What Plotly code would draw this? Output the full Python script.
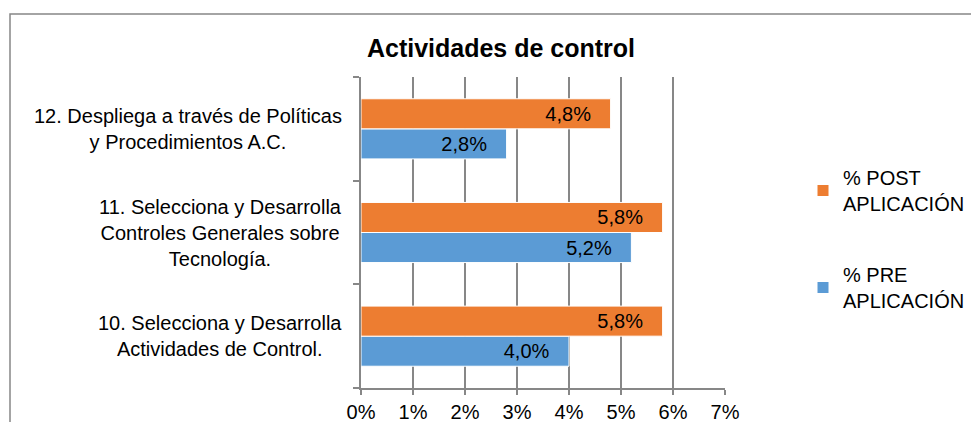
import plotly.graph_objects as go

# Datos
categorias = [
    "10. Selecciona y Desarrolla<br>Actividades de Control.",
    "11. Selecciona y Desarrolla<br>Controles Generales sobre<br>Tecnología.",
    "12. Despliega a través de Políticas<br>y Procedimientos A.C.",
]
pre_aplicacion = [4.0, 5.2, 2.8]
post_aplicacion = [5.8, 5.8, 4.8]
ticks_x = [0, 1, 2, 3, 4, 5, 6, 7]

AZUL = "#5B9BD5"
NARANJA = "#ED7D31"
GRIS = "#878787"
FUENTE = "Liberation Sans, Arial, sans-serif"
TAM = 20

# la página deja 8 px de margen en el body
OFF = 8
W, H = 979 - OFF, 422 - OFF
L, T = 361 - OFF, 77 - OFF
plot_w, plot_h = 364, 311
R = W - L - plot_w
B = H - T - plot_h


def px_x(p):
    return (p - OFF - L) / plot_w


def px_y(p):
    return (H - B - (p - OFF)) / plot_h


fig = go.Figure()

fig.add_trace(go.Bar(
    y=categorias,
    x=pre_aplicacion,
    orientation="h",
    name="% PRE<br>APLICACIÓN",
    legendgroup="pre",
    legendrank=2,
    marker=dict(color=AZUL, line=dict(color="white", width=1)),
    texttemplate="%{x:.1f}%\u00a0\u00a0\u00a0",
    textposition="inside",
    insidetextanchor="end",
    textfont=dict(color="black", size=TAM, family=FUENTE),
))

fig.add_trace(go.Bar(
    y=categorias,
    x=post_aplicacion,
    orientation="h",
    name="% POST<br>APLICACIÓN",
    legendgroup="post",
    legendrank=1,
    marker=dict(color=NARANJA, line=dict(color="white", width=1)),
    texttemplate="%{x:.1f}%\u00a0\u00a0\u00a0",
    textposition="inside",
    insidetextanchor="end",
    textfont=dict(color="black", size=TAM, family=FUENTE),
))

# Etiquetas de categoría centradas (como en el original)
for cat in categorias:
    fig.add_annotation(
        x=px_x(344), xref="paper", xanchor="right",
        y=cat, yref="y", yanchor="middle",
        text=cat, showarrow=False, align="center",
        font=dict(size=TAM, color="black", family=FUENTE),
    )

# Marco del gráfico
fig.add_shape(
    type="rect", xref="paper", yref="paper",
    x0=px_x(10), x1=px_x(990), y0=px_y(14), y1=px_y(440),
    line=dict(color=GRIS, width=1.5), fillcolor="rgba(0,0,0,0)", layer="below",
)

fig.update_layout(
    width=W, height=H,
    margin=dict(l=L, r=R, t=T, b=B, autoexpand=False),
    barmode="group",
    bargap=0.42,
    bargroupgap=0,
    separators=",.",
    paper_bgcolor="white",
    plot_bgcolor="white",
    font=dict(family=FUENTE, size=TAM, color="black"),
    title=dict(
        text="<b>Actividades de control</b>",
        x=(501 - OFF) / W, xanchor="center",
        y=1 - (48 - OFF) / H, yanchor="middle",
        font=dict(size=25, color="black", family=FUENTE),
    ),
    legend=dict(
        x=px_x(803), xanchor="left",
        y=px_y(158), yanchor="top",
        traceorder="grouped",
        tracegroupgap=42,
        itemwidth=30,
        font=dict(size=TAM, color="black", family=FUENTE),
        bgcolor="rgba(0,0,0,0)",
    ),
    uniformtext=dict(mode="show", minsize=TAM),
)

fig.update_xaxes(
    range=[0, 7],
    tickvals=ticks_x,
    ticktext=[f"{v}%" for v in ticks_x],
    showgrid=True, gridcolor=GRIS, gridwidth=1.5,
    showline=True, linecolor=GRIS, linewidth=1.5,
    ticks="outside", ticklen=5, tickcolor=GRIS, tickwidth=1.5,
    zeroline=False, automargin=False,
    tickfont=dict(size=TAM, color="black", family=FUENTE),
)

fig.update_yaxes(
    categoryorder="array", categoryarray=categorias,
    showticklabels=False,
    showline=True, linecolor=GRIS, linewidth=1.5,
    ticks="outside", tickson="boundaries", ticklen=6, tickcolor=GRIS, tickwidth=1.5,
    showgrid=False, zeroline=False, automargin=False,
)

fig.write_html("out.html")
